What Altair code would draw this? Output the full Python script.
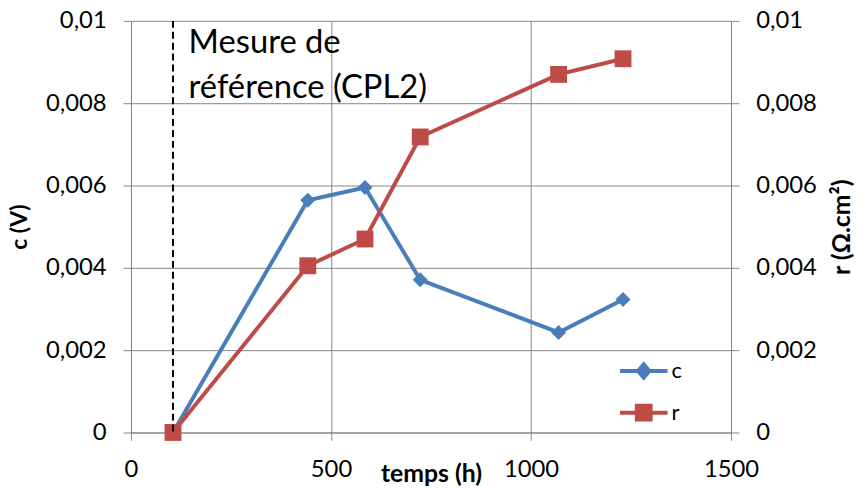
import altair as alt
import pandas as pd

# ---- data ----
temps = [105, 442, 585, 723, 1069, 1230]
c_vals = [0.0, 0.00564, 0.00595, 0.00371, 0.00243, 0.00323]
r_vals = [0.0, 0.00405, 0.00470, 0.00718, 0.00870, 0.00908]
series_names = ["c", "r"]
series_colors = ["#4A7EBB", "#BE4B48"]
x_ticks = [0, 500, 1000, 1500]
y_ticks = [0, 0.002, 0.004, 0.006, 0.008, 0.01]
ref_temps = [105]
note_lines = ["Mesure de", "référence (CPL2)"]
note_x = [144, 144]
note_y = [0.00921, 0.00812]

FONT = "Lato"
GRID = "#868686"

df = pd.DataFrame({"temps": temps, "c": c_vals, "r": r_vals})
ref_df = pd.DataFrame({"ref": ref_temps})
note_df = pd.DataFrame({"x": note_x, "y": note_y, "line": note_lines})
legend_df = pd.DataFrame({"series": series_names})

x_scale = alt.Scale(domain=[0, 1500], nice=False, zero=False)
x_axis = alt.Axis(
    values=x_ticks, format="d", grid=True, gridColor=GRID, gridWidth=1,
    domainColor=GRID, tickColor=GRID, tickSize=8, labelFlush=False,
    labelFont=FONT, labelFontSize=24, labelColor="black", labelPadding=17,
    title="temps (h)", titleFont=FONT, titleFontSize=25, titleFontWeight="bold",
    titleColor="black", titleY=49, titleBaseline="alphabetic",
)
lab_expr = "replace('' + datum.value, '.', ',')"
y_scale = alt.Scale(domain=[0, 0.01], nice=False, zero=False)
y_left_axis = alt.Axis(
    orient="left", values=y_ticks, labelExpr=lab_expr, grid=True, labelFlush=False,
    gridColor=GRID, gridWidth=1, domainColor=GRID, tickColor=GRID, tickSize=8,
    labelFont=FONT, labelFontSize=24, labelColor="black", labelPadding=17,
    title="c (V)", titleFont=FONT, titleFontSize=23, titleFontWeight="bold",
    titleColor="black", titleAngle=270, titleX=-105, titleY=207.5,
    titleAlign="center", titleBaseline="alphabetic",
)
y_right_axis = alt.Axis(
    orient="right", values=y_ticks, labelExpr=lab_expr, grid=False, labelFlush=False,
    domainColor=GRID, tickColor=GRID, tickSize=8,
    labelFont=FONT, labelFontSize=24, labelColor="black", labelPadding=17,
    title="r (Ω.cm²)", titleFont=FONT, titleFontSize=25, titleFontWeight="bold",
    titleColor="black", titleAngle=270, titleX=119, titleY=207.5,
    titleAlign="center", titleBaseline="alphabetic",
)

X = alt.X("temps:Q", scale=x_scale, axis=x_axis)

base = alt.Chart(df)
c_line = base.mark_line(color=series_colors[0], strokeWidth=4).encode(
    x=X, y=alt.Y("c:Q", scale=y_scale, axis=y_left_axis))
c_pts = base.mark_point(shape="diamond", filled=True, size=230, opacity=1,
                        color=series_colors[0]).encode(
    x=X, y=alt.Y("c:Q", scale=y_scale, axis=y_left_axis))
note = alt.Chart(note_df).mark_text(
    align="left", baseline="alphabetic", font=FONT, fontSize=33, color="black"
).encode(
    x=alt.X("x:Q", scale=x_scale, axis=x_axis),
    y=alt.Y("y:Q", scale=y_scale, axis=y_left_axis),
    text="line:N",
)

path_c = "M-2,0H2M0,-0.56L0.475,0L0,0.56L-0.475,0Z"
path_r = "M-2,0H2M-0.58,-0.58H0.58V0.58H-0.58Z"
leg = alt.Legend(title=None, orient="none", legendX=503, legendY=339)
legend_layer = alt.Chart(legend_df).mark_point(
    filled=True, size=576, strokeWidth=4, opacity=1
).encode(
    fill=alt.Fill("series:N", scale=alt.Scale(domain=series_names, range=series_colors), legend=leg),
    stroke=alt.Stroke("series:N", scale=alt.Scale(domain=series_names, range=series_colors), legend=leg),
    shape=alt.Shape("series:N", scale=alt.Scale(domain=series_names, range=[path_c, path_r]), legend=leg),
).transform_filter("false")

left = alt.layer(c_line, c_pts, note, legend_layer)

r_line = base.mark_line(color=series_colors[1], strokeWidth=4).encode(
    x=X, y=alt.Y("r:Q", scale=y_scale, axis=y_right_axis))
r_pts = base.mark_point(shape="square", filled=True, size=289, opacity=1,
                        color=series_colors[1]).encode(
    x=X, y=alt.Y("r:Q", scale=y_scale, axis=y_right_axis))
right = alt.layer(r_line, r_pts)

rule = alt.Chart(ref_df).mark_rule(color="black", strokeWidth=2, strokeDash=[7, 4]).encode(
    x=alt.X("ref:Q", scale=x_scale, axis=x_axis))

chart = alt.layer(left, right, rule).resolve_scale(y="independent").properties(
    width=605, height=415,
    autosize=alt.AutoSizeParams(type="none"),
    padding={"left": 124, "top": 11, "right": 125, "bottom": 55},
    background="white",
).configure_view(stroke=None).configure_legend(
    padding=0, symbolSize=576, symbolStrokeWidth=4, symbolOpacity=1,
    labelFont=FONT, labelFontSize=22, labelColor="black", labelOffset=14,
    rowPadding=12,
)

chart.save("out.html", embed_options={"renderer": "svg", "actions": False})
